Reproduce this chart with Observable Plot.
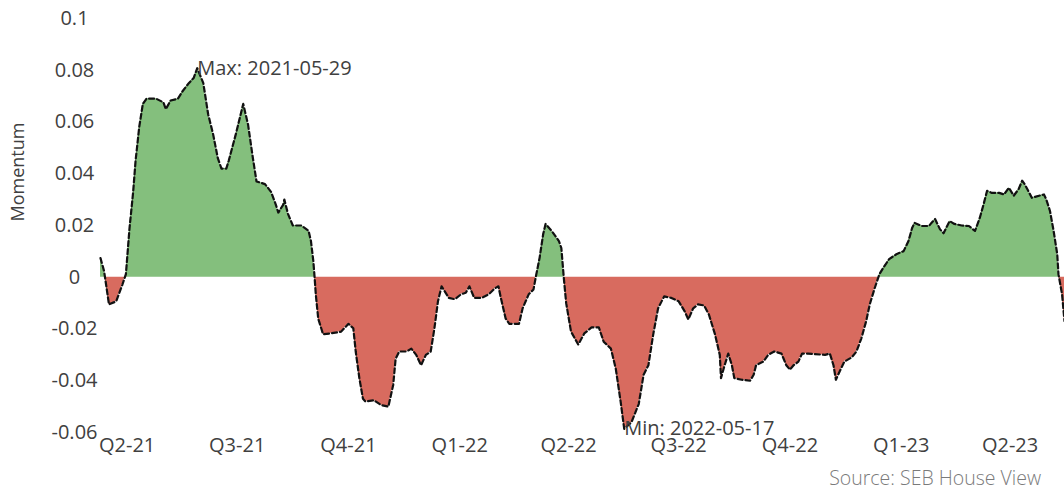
<!DOCTYPE html>
<html>
<head>
<meta charset="utf-8">
<script src="https://cdn.jsdelivr.net/npm/d3@7"></script>
<script src="https://cdn.jsdelivr.net/npm/@observablehq/plot@0.6"></script>
<style>
  html, body { margin: 0; padding: 0; background: #fff; overflow: hidden; }
  #wrap { position: relative; width: 1064px; height: 491px; font-family: "Open Sans", sans-serif; }
  #source { position: absolute; right: 23px; top: 468px; font-size: 19.5px; line-height: 20px; color: #7a7a7a; font-weight: 300; }
</style>
</head>
<body>
<div id="wrap">
  <div id="chart"></div>
  <div id="source">Source: SEB House View</div>
</div>
<script>
// Momentum series (daily observations, sampled at turning points)
const dates = [
  "2021-03-10","2021-03-13","2021-03-17","2021-03-23","2021-03-28","2021-03-31",
  "2021-04-03","2021-04-06","2021-04-08","2021-04-11","2021-04-14","2021-04-17",
  "2021-04-25","2021-05-01","2021-05-03","2021-05-07","2021-05-13","2021-05-17",
  "2021-05-22","2021-05-26","2021-05-29","2021-06-03","2021-06-07","2021-06-11",
  "2021-06-15","2021-06-18","2021-06-22","2021-06-24","2021-06-30","2021-07-06",
  "2021-07-10","2021-07-14","2021-07-17","2021-07-24","2021-07-29","2021-08-02",
  "2021-08-04","2021-08-08","2021-08-09","2021-08-12","2021-08-16","2021-08-23",
  "2021-08-29","2021-08-31","2021-09-02","2021-09-03","2021-09-04","2021-09-06",
  "2021-09-10","2021-09-16","2021-09-25","2021-10-01","2021-10-05","2021-10-07",
  "2021-10-10","2021-10-13","2021-10-15","2021-10-22","2021-10-28","2021-11-03",
  "2021-11-07","2021-11-09","2021-11-12","2021-11-18","2021-11-22","2021-11-26",
  "2021-11-30","2021-12-04","2021-12-08","2021-12-11","2021-12-14","2021-12-17",
  "2021-12-23","2021-12-28","2022-01-02","2022-01-06","2022-01-09","2022-01-13",
  "2022-01-19","2022-01-25","2022-01-30","2022-02-02","2022-02-04","2022-02-08",
  "2022-02-11","2022-02-19","2022-02-22","2022-02-27","2022-03-03","2022-03-05",
  "2022-03-08","2022-03-11","2022-03-13","2022-03-18","2022-03-24","2022-03-26",
  "2022-03-28","2022-03-30","2022-04-03","2022-04-09","2022-04-14","2022-04-20",
  "2022-04-26","2022-04-30","2022-05-06","2022-05-10","2022-05-14","2022-05-17",
  "2022-05-23","2022-05-29","2022-06-02","2022-06-06","2022-06-10","2022-06-14",
  "2022-06-19","2022-06-25","2022-07-01","2022-07-06","2022-07-09","2022-07-13",
  "2022-07-17","2022-07-22","2022-07-26","2022-07-31","2022-08-04","2022-08-05",
  "2022-08-08","2022-08-11","2022-08-14","2022-08-16","2022-08-22","2022-08-29",
  "2022-09-01","2022-09-03","2022-09-09","2022-09-13","2022-09-18","2022-09-24",
  "2022-09-28","2022-10-01","2022-10-04","2022-10-08","2022-10-11","2022-10-16",
  "2022-10-30","2022-11-03","2022-11-06","2022-11-08","2022-11-11","2022-11-15",
  "2022-11-21","2022-11-25","2022-11-29","2022-12-03","2022-12-06","2022-12-10",
  "2022-12-14","2022-12-17","2022-12-22","2022-12-28","2023-01-03","2023-01-07",
  "2023-01-10","2023-01-12","2023-01-18","2023-01-24","2023-01-26","2023-01-29",
  "2023-02-02","2023-02-05","2023-02-08","2023-02-10","2023-02-14","2023-02-20",
  "2023-02-26","2023-03-03","2023-03-07","2023-03-10","2023-03-13","2023-03-17",
  "2023-03-23","2023-03-27","2023-03-31","2023-04-04","2023-04-08","2023-04-11",
  "2023-04-13","2023-04-16","2023-04-19","2023-04-25","2023-04-29","2023-05-01",
  "2023-05-04","2023-05-07","2023-05-10","2023-05-11","2023-05-14","2023-05-16"
];
const momentum = [
  0.0074, 0.0023, -0.0105, -0.0093, -0.003, 0.0012,
  0.019, 0.033, 0.045, 0.058, 0.067, 0.069,
  0.069, 0.0676, 0.065, 0.0683, 0.069, 0.072,
  0.075, 0.077, 0.0808, 0.075, 0.063, 0.0555,
  0.046, 0.042, 0.042, 0.045, 0.0555, 0.067,
  0.059, 0.046, 0.037, 0.036, 0.033, 0.028,
  0.025, 0.028, 0.030, 0.0245, 0.020, 0.020,
  0.018, 0.014, 0.006, 0.0, -0.0066, -0.016,
  -0.022, -0.0217, -0.021, -0.018, -0.0197, -0.0287,
  -0.039, -0.047, -0.048, -0.0475, -0.0494, -0.050,
  -0.0416, -0.0315, -0.0287, -0.0287, -0.0276, -0.030,
  -0.034, -0.030, -0.0287, -0.020, -0.0093, -0.0035,
  -0.008, -0.0085, -0.0066, -0.006, -0.0035, -0.008,
  -0.008, -0.0066, -0.0043, -0.0035, -0.008, -0.016,
  -0.018, -0.018, -0.012, -0.0066, -0.0047, 0.0004,
  0.0074, 0.0167, 0.0206, 0.0179, 0.014, 0.0113,
  0.0, -0.010, -0.021, -0.026, -0.0217, -0.0194,
  -0.0194, -0.0249, -0.0276, -0.0353, -0.048, -0.0586,
  -0.056, -0.049, -0.0377, -0.034, -0.022, -0.012,
  -0.0074, -0.008, -0.0093, -0.0132, -0.0163, -0.012,
  -0.0105, -0.0109, -0.0144, -0.022, -0.030, -0.039,
  -0.034, -0.0295, -0.034, -0.039, -0.0396, -0.040,
  -0.0377, -0.034, -0.0326, -0.030, -0.0287, -0.0295,
  -0.034, -0.0357, -0.034, -0.0326, -0.0295, -0.0295,
  -0.030, -0.0295, -0.034, -0.0396, -0.0365, -0.0326,
  -0.031, -0.0287, -0.0237, -0.017, -0.0105, -0.0043,
  0.0012, 0.0035, 0.007, 0.0089, 0.0101, 0.014,
  0.019, 0.021, 0.0198, 0.0198, 0.021, 0.0225,
  0.0186, 0.017, 0.0198, 0.0217, 0.0206, 0.020,
  0.0198, 0.0179, 0.023, 0.028, 0.0334, 0.0326,
  0.0326, 0.032, 0.0346, 0.0315, 0.034, 0.0373,
  0.036, 0.0334, 0.0307, 0.0315, 0.032, 0.030,
  0.0256, 0.0179, 0.0089, 0.0012, -0.0066, -0.017
];

// Quarter ticks on the time axis
const quarterStarts = ["2021-04-01","2021-07-01","2021-10-01","2022-01-01","2022-04-01",
                       "2022-07-01","2022-10-01","2023-01-01","2023-04-01"];
const quarterLabels = ["Q2-21","Q3-21","Q4-21","Q1-22","Q2-22","Q3-22","Q4-22","Q1-23","Q2-23"];
const yTicks = [-0.06, -0.04, -0.02, 0, 0.02, 0.04, 0.06, 0.08, 0.1];
const xDomain = ["2021-03-10", "2023-05-16"];

const green = "#84bf7d";
const red = "#d86b5f";
const ink = "#404040";

const series = dates.map((d, i) => ({date: new Date(d), value: momentum[i]}));

// Add zero crossings so the positive and negative fills meet cleanly
const fillPts = [];
series.forEach((p, i) => {
  if (i > 0) {
    const q = series[i - 1];
    if ((q.value < 0 && p.value > 0) || (q.value > 0 && p.value < 0)) {
      const t = q.value / (q.value - p.value);
      fillPts.push({date: new Date(+q.date + t * (p.date - q.date)), value: 0});
    }
  }
  fillPts.push(p);
});

const maxPt = series.reduce((a, b) => (b.value > a.value ? b : a));
const minPt = series.reduce((a, b) => (b.value < a.value ? b : a));
const fmtDate = d3.utcFormat("%Y-%m-%d");
const notes = [
  {date: maxPt.date, value: maxPt.value, text: "Max: " + fmtDate(maxPt.date)},
  {date: minPt.date, value: minPt.value, text: "Min: " + fmtDate(minPt.date)}
];

const labelByTime = new Map(quarterStarts.map((d, i) => [+new Date(d), quarterLabels[i]]));

const chart = Plot.plot({
  width: 1064,
  height: 466,
  marginLeft: 100,
  marginRight: 0,
  marginTop: 18,
  marginBottom: 34,
  style: {fontFamily: "Open Sans, sans-serif", fontSize: "20px", color: ink, background: "#fff"},
  x: {type: "utc", domain: xDomain.map(d => new Date(d))},
  y: {domain: [-0.06, 0.1]},
  marks: [
    Plot.areaY(fillPts, {x: "date", y1: 0, y2: d => Math.max(d.value, 0), fill: green}),
    Plot.areaY(fillPts, {x: "date", y1: 0, y2: d => Math.min(d.value, 0), fill: red}),
    Plot.line(series, {x: "date", y: "value", stroke: "#111", strokeWidth: 2.2, strokeDasharray: "5,3"}),
    Plot.text(notes, {x: "date", y: "value", text: "text", textAnchor: "start", fill: ink, fontSize: 20}),
    Plot.axisY(yTicks, {tickSize: 0, tickPadding: 0, textAnchor: "middle", dx: -26,
      tickFormat: d => String(+d.toFixed(2)), label: null, fill: ink, fontSize: 20}),
    Plot.axisX(quarterStarts.map(d => new Date(d)), {tickSize: 0, tickPadding: 5,
      tickFormat: d => labelByTime.get(+d), label: null, fill: ink, fontSize: 20}),
    Plot.text(["Momentum"], {frameAnchor: "left", dx: -82, dy: -4, rotate: -90, fontSize: 18, fill: ink})
  ]
});
document.getElementById("chart").appendChild(chart);
</script>
</body>
</html>
